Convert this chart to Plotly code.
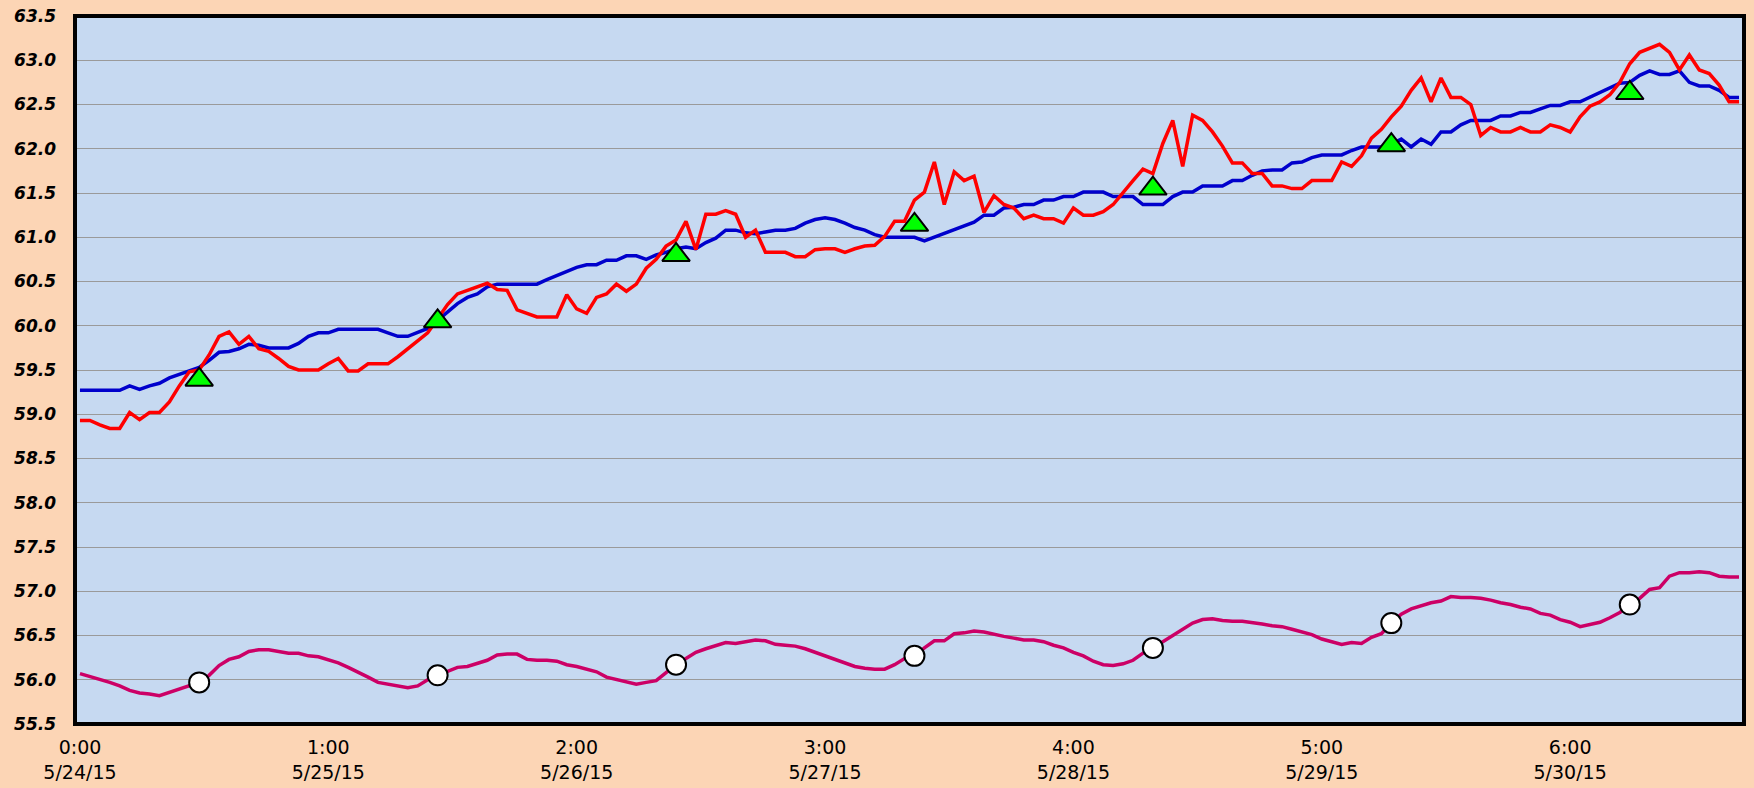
import plotly.graph_objects as go

hours = list(range(168))

blue_vals = [
    59.27, 59.27, 59.27, 59.27, 59.27, 59.32, 59.28, 59.32, 59.35, 59.41,
    59.45, 59.49, 59.53, 59.61, 59.70, 59.71, 59.74, 59.79, 59.78, 59.75,
    59.75, 59.75, 59.80, 59.88, 59.92, 59.92, 59.96, 59.96, 59.96, 59.96,
    59.96, 59.92, 59.88, 59.88, 59.93, 59.97, 60.06, 60.15, 60.25, 60.32,
    60.36, 60.44, 60.47, 60.47, 60.47, 60.47, 60.47, 60.52, 60.57, 60.61,
    60.66, 60.69, 60.69, 60.74, 60.74, 60.79, 60.79, 60.75, 60.80, 60.83,
    60.87, 60.89, 60.87, 60.94, 60.99, 61.08, 61.08, 61.05, 61.04, 61.06,
    61.08, 61.08, 61.10, 61.16, 61.20, 61.22, 61.20, 61.16, 61.11, 61.08,
    61.03, 61.00, 61.00, 61.00, 61.00, 60.96, 61.00, 61.05, 61.08, 61.12,
    61.17, 61.25, 61.25, 61.33, 61.34, 61.37, 61.37, 61.42, 61.42, 61.46,
    61.46, 61.51, 61.51, 61.51, 61.46, 61.46, 61.46, 61.37, 61.37, 61.37,
    61.46, 61.51, 61.51, 61.58, 61.58, 61.58, 61.64, 61.64, 61.70, 61.75,
    61.76, 61.76, 61.84, 61.85, 61.90, 61.93, 61.93, 61.93, 61.98, 62.02,
    62.02, 62.02, 62.05, 62.11, 62.02, 62.11, 62.05, 62.19, 62.19, 62.27,
    62.32, 62.32, 62.32, 62.37, 62.37, 62.41, 62.41, 62.45, 62.49, 62.49,
    62.53, 62.53, 62.58, 62.63, 62.69, 62.74, 62.75, 62.83, 62.88, 62.84,
    62.84, 62.88, 62.75, 62.71, 62.71, 62.66, 62.58, 62.58,
]

red_vals = [
    58.93, 58.93, 58.88, 58.84, 58.84, 59.02, 58.94, 59.02, 59.02, 59.14,
    59.32, 59.48, 59.50, 59.67, 59.88, 59.93, 59.79, 59.88, 59.74, 59.71,
    59.63, 59.54, 59.50, 59.50, 59.50, 59.57, 59.63, 59.49, 59.49, 59.57,
    59.57, 59.57, 59.65, 59.74, 59.84, 59.92, 60.08, 60.24, 60.36, 60.40,
    60.44, 60.48, 60.41, 60.40, 60.18, 60.14, 60.10, 60.10, 60.10, 60.35,
    60.19, 60.14, 60.32, 60.36, 60.47, 60.39, 60.47, 60.65, 60.75, 60.90,
    60.97, 61.18, 60.86, 61.26, 61.26, 61.30, 61.26, 61.00, 61.08, 60.83,
    60.83, 60.83, 60.78, 60.78, 60.86, 60.87, 60.87, 60.83, 60.87, 60.90,
    60.91, 61.01, 61.18, 61.18, 61.42, 61.51, 61.85, 61.37, 61.74, 61.64,
    61.69, 61.28, 61.47, 61.37, 61.33, 61.21, 61.25, 61.21, 61.21, 61.16,
    61.33, 61.25, 61.25, 61.29, 61.37, 61.51, 61.64, 61.77, 61.72, 62.06,
    62.32, 61.80, 62.38, 62.32, 62.19, 62.03, 61.84, 61.84, 61.72, 61.72,
    61.58, 61.58, 61.55, 61.55, 61.64, 61.64, 61.64, 61.85, 61.80, 61.92,
    62.12, 62.22, 62.36, 62.48, 62.66, 62.80, 62.53, 62.80, 62.58, 62.58,
    62.50, 62.15, 62.24, 62.19, 62.19, 62.24, 62.19, 62.19, 62.27, 62.24,
    62.19, 62.36, 62.48, 62.53, 62.61, 62.75, 62.96, 63.09, 63.13, 63.18,
    63.09, 62.89, 63.06, 62.89, 62.85, 62.72, 62.53, 62.53,
]

magenta_vals = [
    56.07, 56.04, 56.01, 55.97, 55.93, 55.88, 55.85, 55.84, 55.82, 55.86,
    55.89, 55.93, 55.97, 56.05, 56.16, 56.23, 56.26, 56.32, 56.34, 56.34,
    56.32, 56.30, 56.30, 56.27, 56.26, 56.23, 56.19, 56.14, 56.09, 56.03,
    55.97, 55.95, 55.93, 55.91, 55.93, 56.00, 56.05, 56.09, 56.14, 56.15,
    56.18, 56.22, 56.28, 56.29, 56.29, 56.23, 56.22, 56.22, 56.21, 56.17,
    56.15, 56.12, 56.09, 56.03, 56.00, 55.97, 55.95, 55.97, 55.99, 56.08,
    56.17, 56.24, 56.31, 56.35, 56.38, 56.42, 56.41, 56.43, 56.45, 56.44,
    56.40, 56.39, 56.38, 56.35, 56.31, 56.27, 56.23, 56.19, 56.15, 56.13,
    56.12, 56.12, 56.17, 56.24, 56.27, 56.36, 56.44, 56.44, 56.52, 56.53,
    56.55, 56.54, 56.51, 56.49, 56.47, 56.45, 56.45, 56.43, 56.39, 56.36,
    56.31, 56.27, 56.21, 56.17, 56.16, 56.18, 56.22, 56.30, 56.36, 56.43,
    56.50, 56.58, 56.64, 56.68, 56.69, 56.67, 56.66, 56.66, 56.65, 56.63,
    56.61, 56.60, 56.57, 56.54, 56.51, 56.46, 56.43, 56.40, 56.42, 56.41,
    56.48, 56.52, 56.64, 56.74, 56.80, 56.84, 56.87, 56.89, 56.94, 56.93,
    56.93, 56.92, 56.90, 56.87, 56.85, 56.82, 56.80, 56.75, 56.73, 56.68,
    56.65, 56.60, 56.63, 56.65, 56.70, 56.76, 56.84, 56.92, 57.02, 57.04,
    57.17, 57.21, 57.21, 57.22, 57.21, 57.17, 57.16, 57.16,
]

marker_hours = [12, 36, 60, 84, 108, 132, 156]
triangle_vals = [59.39, 60.05, 60.80, 61.14, 61.55, 62.04, 62.63]
circle_vals = [55.97, 56.05, 56.17, 56.27, 56.36, 56.64, 56.85]

tick_hours = [0, 25, 50, 75, 100, 125, 150]
tick_labels = ["0:00<br>5/24/15", "1:00<br>5/25/15", "2:00<br>5/26/15",
               "3:00<br>5/27/15", "4:00<br>5/28/15", "5:00<br>5/29/15",
               "6:00<br>5/30/15"]
y_ticks = [55.5 + 0.5 * k for k in range(17)]

fig = go.Figure()
fig.add_trace(go.Scatter(x=hours, y=blue_vals, mode="lines",
                         line=dict(color="#0000CC", width=3.5)))
fig.add_trace(go.Scatter(x=hours, y=red_vals, mode="lines",
                         line=dict(color="#FF0000", width=3.5)))
fig.add_trace(go.Scatter(x=hours, y=magenta_vals, mode="lines",
                         line=dict(color="#CC0066", width=3.5)))
fig.add_trace(go.Scatter(x=marker_hours, y=triangle_vals, mode="markers",
                         marker=dict(symbol="triangle-up", size=24, color="#00FF00",
                                     line=dict(color="black", width=2))))
fig.add_trace(go.Scatter(x=marker_hours, y=circle_vals, mode="markers",
                         marker=dict(symbol="circle", size=20, color="white",
                                     line=dict(color="black", width=2))))

fig.update_layout(
    width=1754, height=788,
    margin=dict(l=75, r=10, t=16, b=64),
    paper_bgcolor="#FCD5B5",
    plot_bgcolor="#C6D9F1",
    showlegend=False,
    xaxis=dict(range=[-0.5, 167.5], tickvals=tick_hours, ticktext=tick_labels,
               showgrid=False, zeroline=False, showline=False, ticks="",
               automargin=False, ticklabelstandoff=10,
               tickfont=dict(family="DejaVu Sans", size=19, color="black")),
    yaxis=dict(range=[55.5, 63.5], tickvals=y_ticks,
               ticktext=[f"{v:.1f}" for v in y_ticks],
               showgrid=True, gridcolor="#9A9A9A", gridwidth=1.2,
               zeroline=False, showline=False, ticks="",
               automargin=False, ticklabelstandoff=18,
               tickfont=dict(family="DejaVu Sans", size=17, color="black",
                             weight="bold", style="italic")),
    shapes=[dict(type="rect", xref="paper", yref="paper", x0=0, x1=1, y0=0, y1=1,
                 line=dict(color="black", width=4), layer="above")],
)

fig.write_html("out.html",
               config={"displayModeBar": False},
               post_script="document.body.style.margin='0';document.body.style.overflow='hidden';")
